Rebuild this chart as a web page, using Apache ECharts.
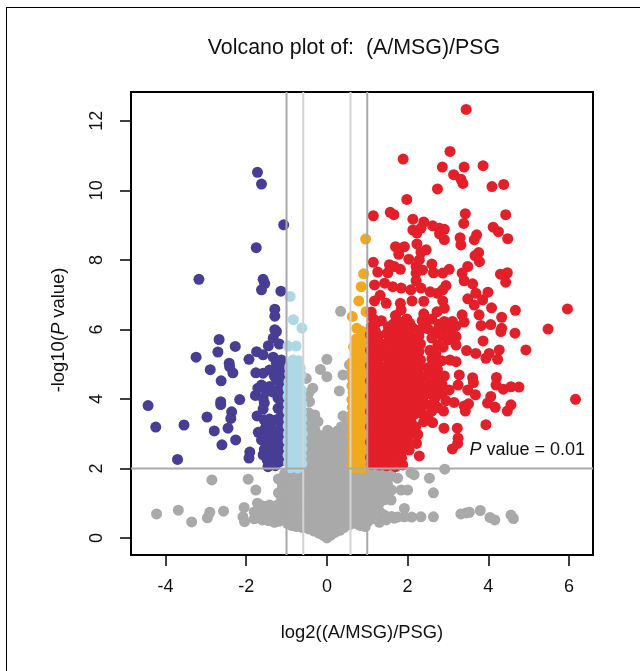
<!DOCTYPE html>
<html><head><meta charset="utf-8">
<style>html,body{margin:0;padding:0;background:#fff}#c{width:640px;height:671px}</style>
<script src="https://cdn.jsdelivr.net/npm/echarts@6/dist/echarts.min.js"></script>
</head><body><div id="c"></div>
<script>
const xTicks=[-4,-2,0,2,4,6];
const yTicks=[0,2,4,6,8,10,12];
const foldInner=[-0.585,0.585];
const foldOuter=[-1,1];
const pCut=2;
const titleText='Volcano plot of:  (A/MSG)/PSG';
const xName='log2((A/MSG)/PSG)';

const grayPts=[
[-4.22,.69],[-3.68,.8],[-3.35,.46],[-2.96,.58],[-2.9,.74],[-2.85,1.67],[-2.56,.77],[-2.04,.47],[-2.08,.61],[-2.05,.88],[-1.76,1.38],[-1.95,1.69],
[-1.8,.55],[-1.8,.75],[-1.72,1],[-1.6,.52],[-1.6,.72],[-1.58,.92],[-1.45,.5],[-1.42,.72],[-1.42,.95],[-1.3,.45],[-1.28,.68],[-1.28,.92],[-1.2,.48],[-1.18,.75],[-1.16,1],[-1.2,1.3],[-1.1,1.5],[-1.2,1.7],[-1.05,1.85],
[0,0],[-.1,.08],[.1,.08],[-.2,.14],[.2,.16],[-.32,.2],[.32,.22],[-.45,.26],[.42,.3],[-.6,.3],[.55,.38],[-.75,.33],[.7,.42],[-.88,.36],[-.98,.42],[.82,.36],[.95,.33],
[-1.04,.6],[-.85,.55],[-.65,.5],[-.45,.45],[-.25,.4],[-.05,.3],[.15,.38],[.35,.45],[.55,.55],[.75,.6],[.95,.55],[1.01,.47],
[-1.05,.82],[-.85,.78],[-.62,.75],[-.42,.72],[-.2,.62],[0,.55],[.2,.6],[.4,.68],[.62,.75],[.82,.8],[1.05,.75],[1.3,.76],
[-1.05,1.05],[-.82,1.02],[-.6,.98],[-.38,.95],[-.18,.88],[.04,.8],[.24,.85],[.45,.92],[.65,1],[.85,1.02],[1.08,1],[1.3,1],[1.59,1.09],
[-1.02,1.28],[-.8,1.25],[-.58,1.2],[-.36,1.18],[-.14,1.1],[.06,1.05],[.28,1.12],[.5,1.18],[.72,1.22],[.92,1.25],[1.12,1.22],[1.34,1.25],
[-.98,1.5],[-.78,1.48],[-.55,1.45],[-.32,1.4],[-.12,1.35],[.1,1.3],[.3,1.38],[.52,1.42],[.74,1.45],[.95,1.48],[1.15,1.45],[1.38,1.42],[1.6,1.38],[1.84,1.38],[2,1.38],
[-.95,1.72],[-.72,1.7],[-.52,1.68],[-.3,1.62],[-.08,1.58],[.12,1.55],[.32,1.6],[.55,1.65],[.76,1.68],[.98,1.7],[1.2,1.68],[1.42,1.72],[1.75,1.72],[2.08,1.88],[2.54,1.72],[2.64,1.3],[2.92,1.98],
[-.9,1.92],[-.68,1.9],[-.5,1.88],[-.28,1.85],[-.06,1.8],[.14,1.78],[.34,1.82],[.55,1.88],[.78,1.9],[1,1.92],[1.22,1.9],[1.45,1.92],[2.16,1.82],
[-.52,2.05],[-.46,2.3],[-.5,2.55],[-.46,2.8],[-.48,3.05],[-.42,3.28],[-.3,2.1],[-.28,2.35],[-.34,2.6],[-.28,2.85],[-.1,2.05],[-.12,2.3],[.08,2.05],[.06,2.32],[.05,2.6],[.02,2.85],[.02,3.1],
[.26,2.08],[.28,2.3],[.24,2.55],[.28,2.82],[.26,3.08],[.46,2.1],[.48,2.35],[.44,2.6],[.47,2.85],[.44,3.1],[.48,2.05],[-.18,2.62],[-.16,2.95],
[-.45,3.6],[-.43,3.92],[-.45,4.16],[-.51,4.59],[-.35,4.31],[-.3,3.54],[-.22,3.35],[-.34,3.3],[.4,3.51],[.31,4.23],[.4,4.69],[.56,4.98],[-.16,4.85],[0,4.64],[0,5.14],[.34,6.52],
[1.92,.85],[1.92,.61],[2.33,.61],[2.64,.61],[2.1,.6],[3.32,.69],[3.45,.72],[3.53,.74],[3.8,.79],[4.04,.59],[4.16,.52],[4.56,.66],[4.62,.56],[1.67,.57],[1.47,.52],[1.3,.45],[1.3,.76],[1.6,.62],[1.75,.6],
[-.95,.5],[-.75,.48],[-.55,.42],[-.35,.32],[-.15,.22],[.05,.18],[.25,.3],[.45,.5],[.65,.58],[.85,.62],[1.12,.55],
[-.95,.68],[-.74,.64],[-.52,.6],[-.32,.56],[-.1,.46],[.1,.45],[.3,.55],[.5,.72],[.72,.78],[.94,.8],[1.18,.88],[1.42,.66],
[-.95,.92],[-.72,.9],[-.5,.85],[-.28,.78],[-.08,.72],[.12,.72],[.34,.78],[.56,.88],[.76,.92],[.96,.92],[1.2,1.1],[1.44,1.1],
[-1.12,1.15],[-.92,1.15],[-.7,1.1],[-.48,1.08],[-.26,1.02],[-.04,.95],[.16,.96],[.38,1.05],[.6,1.1],[.82,1.12],[1.02,1.12],[1.24,1.35],[1.48,1.3],
[-1.08,1.38],[-.9,1.38],[-.68,1.35],[-.45,1.3],[-.22,1.25],[0,1.2],[.2,1.22],[.4,1.28],[.62,1.32],[.84,1.35],[1.05,1.36],[1.28,1.55],[1.5,1.55],
[-1.05,1.62],[-.86,1.6],[-.62,1.58],[-.42,1.52],[-.2,1.48],[.02,1.44],[.22,1.46],[.44,1.52],[.65,1.55],[.86,1.58],[1.08,1.58],[1.32,1.8],[1.55,1.75],
[-.82,1.82],[-.6,1.8],[-.4,1.75],[-.18,1.72],[.04,1.68],[.24,1.7],[.45,1.75],[.66,1.78],[.88,1.8],[1.1,1.82],[1.58,1.85],
[-.42,1.98],[-.2,1.95],[.02,1.92],[.22,1.94],[.4,1.98],[-.2,2.18],[-.02,2.18],[.16,2.2],[.36,2.22],[-.42,2.18],[-.4,2.45],[-.1,2.48],[.15,2.45],[.36,2.48],[-.38,2.72],[-.1,2.72],[.36,2.72],[-.4,2.95],[.36,2.96],[.14,3],[.36,3.2],[-.3,3.12],[.14,2.75],[.48,3.25],[-.42,3.45]
];
const orangePts=[
[.96,8.6],[.91,7.6],[.85,7.23],[.79,6.82],[.97,6.51],[.63,6.37],[.74,6.03],[.86,5.95],[.72,5.72],[.92,5.7],[.66,5.5],[.84,5.48],[.7,5.25],[.9,5.28],[.62,5.05],[.78,5.02],[.94,5.05],
[.62,4.8],[.78,4.82],[.94,4.78],[.63,4.6],[.8,4.58],[.95,4.6],[.62,4.38],[.78,4.4],[.93,4.36],[.65,4.18],[.8,4.2],[.95,4.16],[.62,3.98],[.78,3.96],[.94,3.98],[.63,3.76],[.8,3.78],[.95,3.75],[.62,3.55],[.78,3.56],[.94,3.55],
[.62,3.34],[.78,3.35],[.95,3.32],[.63,3.12],[.8,3.14],[.94,3.12],[.62,2.92],[.78,2.9],[.95,2.92],[.63,2.7],[.8,2.72],[.94,2.7],[.62,2.5],[.78,2.48],[.95,2.5],[.63,2.28],[.8,2.3],[.94,2.28],[.62,2.08],[.78,2.05],[.95,2.04],[.7,2.02],[.88,2.01],
[.7,4.7],[.87,4.7],[.7,4.48],[.87,4.48],[.7,4.28],[.87,4.28],[.7,4.08],[.87,4.08],[.7,3.86],[.87,3.86],[.7,3.66],[.87,3.66],[.7,3.45],[.87,3.45],[.7,3.24],[.87,3.24],[.7,3.02],[.87,3.02],[.7,2.8],[.87,2.8],[.7,2.6],[.87,2.6],[.7,2.38],[.87,2.38],[.7,2.18],[.87,2.18]
];
const lightbluePts=[
[-.91,6.95],[-.83,6.28],[-.62,6.04],[-.96,5.52],[-.76,5.52],[-.84,5.12],[-.7,5.1],[-.92,4.92],[-.76,4.95],[-.66,4.88],[-.92,4.72],[-.78,4.72],[-.64,4.7],[-.94,4.5],[-.8,4.52],[-.68,4.5],
[-.96,4.3],[-.8,4.3],[-.63,4.25],[-.96,4.08],[-.8,4.1],[-.64,4.05],[-.95,3.85],[-.78,3.88],[-.62,3.85],[-.96,3.65],[-.8,3.66],[-.63,3.62],[-.95,3.42],[-.78,3.45],[-.62,3.42],[-.96,3.22],[-.8,3.22],[-.63,3.2],
[-.95,3],[-.78,3.02],[-.61,3],[-.96,2.8],[-.8,2.78],[-.62,2.78],[-.95,2.58],[-.78,2.58],[-.62,2.56],[-.96,2.38],[-.8,2.36],[-.63,2.35],[-.95,2.16],[-.78,2.15],[-.62,2.14],[-.9,2.02],[-.72,2.01],
[-.87,4.62],[-.72,4.6],[-.88,4.4],[-.72,4.4],[-.88,4.2],[-.72,4.18],[-.87,3.98],[-.7,3.96],[-.87,3.76],[-.7,3.76],[-.87,3.54],[-.7,3.54],[-.87,3.32],[-.7,3.32],[-.87,3.1],[-.7,3.1],[-.87,2.9],[-.7,2.9],[-.87,2.68],[-.7,2.68],[-.87,2.46],[-.7,2.46],[-.87,2.26],[-.7,2.26]
];
const bluePts=[
[-1.72,10.52],[-1.62,10.18],[-1.07,9.01],[-1.75,8.35],[-3.17,7.44],[-1.58,7.44],[-1.54,7.32],[-1.62,7.14],[-1.14,7.1],[-1.29,6.58],[-1.29,6.38],[-1.29,5.99],
[-2.67,5.71],[-2.27,5.51],[-2.7,5.35],[-3.24,5.2],[-2.89,4.84],[-2.42,5.03],[-2.41,4.93],[-2.33,4.75],[-2.62,4.52],[-1.93,5.14],[-1.74,5.36],[-1.58,5.27],[-1.45,5.53],[-1.33,5.75],[-1.18,5.58],[-1.25,5.94],[-1.33,5.2],[-1.25,5.03],[-1.13,5.12],
[-1.76,4.75],[-1.58,4.74],[-1.42,4.83],[-1.21,4.79],[-1.25,4.55],[-1.62,4.4],[-1.42,4.36],[-1.71,4.31],[-1.77,4.1],[-1.58,4.02],[-1.5,4.22],[-1.21,4.26],[-1.21,4.02],[-1.58,3.71],[-1.21,3.73],[-1.12,4.45],[-1.15,4.95],[-1.55,3.88],
[-2.16,3.98],[-2.63,3.92],[-2.63,3.84],[-4.43,3.81],[-4.24,3.19],[-3.54,3.25],[-2.97,3.48],[-2.36,3.63],[-2.38,3.44],[-2.79,3.08],[-2.45,3.16],[-2.26,2.82],[-2.6,2.68],[-3.7,2.26],[-1.91,2.47],[-1.93,2.3],
[-1.73,3.51],[-1.5,3.3],[-1.25,3.4],[-1.38,3.28],[-1.7,3.04],[-1.42,3.11],[-1.17,3.11],[-1.55,3.12],[-1.62,2.82],[-1.38,2.85],[-1.17,2.82],[-1.28,3],[-1.17,2.53],[-1.42,2.53],[-1.58,2.39],[-1.33,2.29],[-1.46,2.05],[-1.17,2.2],[-1.3,2.65],[-1.48,2.72],[-1.28,2.08],[-1.12,2.98],[-1.12,3.3],[-1.12,3.55],
[-1.3,4.65],[-1.12,4.7],[-1.12,4.2],[-1.35,4.2],[-1.13,3.85],[-1.42,3.42],[-1.55,3.4],[-1.5,2.9],[-1.12,2.65],[-1.3,2.45],[-1.48,2.25],[-1.12,2.38],[-1.55,2.55],[-1.38,2.15]
];
const redPts=[
[3.45,12.33],[3.05,11.12],[1.89,10.9],[2.86,10.67],[3.4,10.67],[3.87,10.71],[3.14,10.45],[3.32,10.32],[3.37,10.2],[4.09,10.11],[4.38,10.17],[2.74,10.04],[1.98,9.74],[1.15,9.27],[1.57,9.37],[1.66,9.3],[2.13,9.17],[2.4,9.09],[3.43,9.33],[4.43,9.3],[3.39,9.05],[4.12,8.94],[4.25,8.81],[4.48,8.61],
[2.62,8.98],[2.79,8.91],[2.91,8.88],[2.79,8.75],[2.91,8.58],[2.13,8.86],[2.23,8.77],[2.33,8.91],[2.23,8.46],[3.3,8.64],[3.32,8.43],[3.71,8.72],[3.65,8.58],[1.7,8.38],[1.92,8.38],[1.78,8.16],[2.46,8.29],[2.33,8.22],[3.76,8.21],[3.67,8.12],[3.78,7.95],[2.03,8.02],[2.29,8],[1.15,7.93],[2.6,7.88],
[1.26,7.65],[1.55,7.86],[1.67,7.81],[1.82,7.73],[1.51,7.63],[2.21,7.81],[2.37,7.71],[2.21,7.62],[2.64,7.63],[2.87,7.62],[3.03,7.73],[3.49,7.81],[3.35,7.62],[3.4,7.4],[4.47,7.63],[4.3,7.59],[4.43,7.36],[3.61,7.31],[1.18,7.28],[1.43,7.33],[1.63,7.23],[1.84,7.19],[2.21,7.4],[2.33,7.19],[2.08,7.14],[2.95,7.26],[2.87,7.14],[2.56,7.08],[2.74,7.04],[3.99,7.07],[3.69,7.04],[1.32,6.98],
[1.18,6.82],[1.47,6.75],[1.82,6.75],[2.11,6.82],[2.4,6.81],[2.87,6.82],[3.49,6.88],[3.86,6.85],[3.65,6.7],[4.08,6.62],[4.67,6.55],[5.96,6.59],[1.84,6.56],[2.91,6.61],[2.73,6.51],[3.77,6.42],[3.35,6.42],[4.33,6.35],[2.91,6.23],[3.11,6.23],[3.4,6.21],[4.06,6.14],[3.82,6.11],[4.33,6.03],[5.48,6.01],
[3.87,5.67],[4.93,5.41],[4.31,5.94],[4.66,5.89],[3.46,5.39],[3.69,5.31],[3.94,5.17],[4.02,5.31],[4.27,5.41],[4.23,5.14],[2.88,5.49],[3.2,5.79],[3.2,5.55],[3.05,5.12],[3.2,5.07],[2.74,4.85],[2.91,4.66],[2.74,4.59],[3.28,4.69],[3.25,4.4],[3.61,4.61],[3.63,4.47],[4.2,4.62],[4.19,4.4],[4.37,4.28],[4.56,4.35],[4.76,4.34],[3.49,4.26],[3.68,4.12],[6.16,3.99],[4.06,4.07],[3.98,3.88],[4.17,3.76],[4.56,3.83],[4.47,3.65],[3.51,3.86],[3.4,3.8],[3.43,3.65],[3.03,4.26],[2.87,4.16],[2.7,4.07],[2.89,3.65],[2.62,3.32],[2.9,3.16],[3.23,3.16],[3.94,3.26],[3.25,2.87],[3.24,2.72],[3.11,2.56],[2.22,2.72],[2.29,2.36],[2.04,2.53],[1.88,2.1],
[2.6,6.3],[2.45,6.1],[2.7,5.95],[2.95,6],[3.1,5.95],[2.6,5.75],[2.75,5.55],[2.55,5.4],[2.6,5.15],[2.5,4.9],[2.45,4.65],[2.45,4.35],[2.55,4.15],[2.65,3.9],[2.45,3.85],[2.35,3.6],[2.6,3.65],[2.4,3.35],[2.2,3.2],[2.25,2.98],[2.1,3],
[1.1,6.5],[1.7,6.4],[2.4,6.45],[1.15,6.3],[1.35,6.25],[1.78,6.22],[1.98,6.3],[2.36,6.25],[1.1,6.08],[1.52,6.08],[1.72,6.02],[1.93,6.08],[2.12,6.05],[2.32,6],[2.5,6.02],
[1.08,5.85],[1.28,5.82],[1.48,5.88],[1.68,5.82],[1.88,5.85],[2.08,5.82],[2.28,5.8],[1.12,5.62],[1.32,5.6],[1.52,5.65],[1.72,5.6],[1.92,5.64],[2.12,5.6],[2.32,5.58],
[1.08,5.4],[1.28,5.42],[1.48,5.38],[1.68,5.42],[1.88,5.38],[2.08,5.4],[2.28,5.36],[1.12,5.18],[1.32,5.2],[1.52,5.16],[1.72,5.2],[1.92,5.16],[2.12,5.18],[2.32,5.12],[1.08,4.96],[1.28,4.98],[1.48,4.95],[1.68,4.98],[1.88,4.94],[2.08,4.96],[2.28,4.9],
[1.12,4.75],[1.32,4.76],[1.52,4.72],[1.72,4.76],[1.92,4.72],[2.12,4.75],[2.3,4.68],[1.08,4.52],[1.28,4.55],[1.48,4.5],[1.68,4.54],[1.88,4.5],[2.06,4.52],[2.28,4.48],[1.12,4.3],[1.32,4.32],[1.52,4.28],[1.72,4.32],[1.92,4.28],[2.12,4.3],[2.3,4.25],
[1.08,4.08],[1.28,4.1],[1.48,4.06],[1.68,4.1],[1.88,4.06],[2.1,4.08],[2.3,4.02],[1.12,3.86],[1.32,3.88],[1.52,3.84],[1.72,3.88],[1.92,3.84],[2.12,3.85],[2.28,3.8],[1.08,3.64],[1.28,3.66],[1.48,3.62],[1.68,3.66],[1.88,3.62],[2.05,3.62],[2.2,3.58],
[1.12,3.42],[1.32,3.44],[1.52,3.4],[1.72,3.44],[1.92,3.4],[2.08,3.4],[1.08,3.2],[1.28,3.22],[1.48,3.18],[1.68,3.22],[1.88,3.18],[2.02,3.2],[1.12,2.98],[1.32,3],[1.52,2.96],[1.72,3],[1.9,2.96],[1.08,2.76],[1.28,2.78],[1.48,2.74],[1.68,2.78],[1.86,2.74],[2,2.8],
[1.12,2.54],[1.32,2.56],[1.52,2.52],[1.7,2.56],[1.85,2.5],[1.08,2.32],[1.28,2.34],[1.48,2.3],[1.66,2.32],[1.85,2.3],[1.1,2.12],[1.3,2.1],[1.48,2.08],[1.7,2.05],
[1.22,6.18],[1.65,6.16],[2.05,6.18],[1.2,5.95],[1.6,5.95],[2,5.95],[1.2,5.72],[1.62,5.72],[2.02,5.72],[2.22,5.7],
[1.18,5.5],[1.58,5.52],[1.98,5.5],[2.18,5.48],[1.2,5.3],[1.62,5.28],[2.02,5.28],[2.2,5.26],[1.18,5.08],[1.6,5.06],[1.8,5.06],[2.2,5.04],[1.2,4.86],[1.6,4.86],[2,4.84],[2.2,4.82],
[1.18,4.64],[1.4,4.64],[1.6,4.62],[1.8,4.64],[2,4.62],[2.2,4.6],[1.2,4.42],[1.4,4.42],[1.6,4.42],[1.8,4.4],[2,4.4],[2.2,4.38],[1.18,4.2],[1.4,4.2],[1.6,4.2],[1.8,4.18],[2,4.18],[2.2,4.16],[1.2,3.98],[1.4,3.98],[1.6,3.98],[1.8,3.96],[2,3.96],[2.2,3.94],
[1.18,3.76],[1.4,3.76],[1.6,3.75],[1.8,3.75],[2,3.74],[1.2,3.54],[1.4,3.54],[1.6,3.54],[1.8,3.52],[2,3.52],[1.18,3.32],[1.4,3.32],[1.6,3.32],[1.8,3.3],[1.98,3.3],[1.2,3.1],[1.4,3.1],[1.6,3.1],[1.8,3.08],[1.2,2.88],[1.4,2.86],[1.6,2.88],[1.78,2.86],[1.2,2.66],[1.4,2.64],[1.6,2.66],[1.8,2.64],[1.2,2.44],[1.4,2.42],[1.58,2.44],[1.76,2.42],[1.2,2.22],[1.38,2.2],[1.58,2.18],
[2.78,6.15],[3,6.12],[3.2,6.1],[2.85,5.8],[3,5.7],[2.7,5.3],[2.85,5.1],[2.7,5],[2.6,4.75],[2.55,4.55],[2.62,4.35],[2.85,4.42],[2.75,4.25],[3.15,3.9],[2.4,4.1],[2.75,3.75],[2.5,3.5],[2.95,3.95]
];

const xMin=-4.853,xMax=6.593,yMin=-0.49,yMax=12.83;
const dots=(name,data,color,z)=>({name,type:'scatter',data,symbol:'circle',symbolSize:11,itemStyle:{color,opacity:1},z,silent:true,animation:false});
const rule=(data,color,z)=>({type:'line',data,showSymbol:false,symbol:'none',lineStyle:{color,width:2},z,silent:true,animation:false});
const F='"Liberation Sans",Arial,sans-serif';
const series=[
 dots('gray',grayPts,'#a9a9a9',2),
 dots('orange',orangePts,'#f2a91d',3),
 dots('blue',bluePts,'#483d94',3),
 dots('lightblue',lightbluePts,'#add8e6',4),
 dots('red',redPts,'#e31f29',5),
 ...foldOuter.map(v=>rule([[v,yMin],[v,yMax]],'#a9a9a9',7)),
 ...foldInner.map(v=>rule([[v,yMin],[v,yMax]],'#d3d3d3',7)),
 rule([[xMin,pCut],[xMax,pCut]],'#a9a9a9',7)
];
const chart=echarts.init(document.getElementById('c'),null,{renderer:'canvas'});
chart.setOption({
 animation:false,backgroundColor:'#fff',
 grid:{left:131,top:92,width:462,height:463,show:true,borderColor:'#000',borderWidth:2,backgroundColor:'transparent'},
 xAxis:{type:'value',min:xMin,max:xMax,splitLine:{show:false},axisLine:{show:false,onZero:false},
  axisTick:{show:true,length:11,lineStyle:{color:'#000',width:1.5},customValues:xTicks},
  axisLabel:{color:'#111',fontFamily:F,fontSize:18,margin:23,customValues:xTicks}},
 yAxis:{type:'value',min:yMin,max:yMax,splitLine:{show:false},axisLine:{show:false,onZero:false},
  axisTick:{show:true,length:11,lineStyle:{color:'#000',width:1.5},customValues:yTicks},
  axisLabel:{color:'#111',fontFamily:F,fontSize:18,margin:25,rotate:90,customValues:yTicks}},
 series,
 graphic:[
  {type:'line',shape:{x1:6,y1:7.5,x2:640,y2:7.5},style:{stroke:'#000',lineWidth:1}},
  {type:'line',shape:{x1:6.5,y1:7,x2:6.5,y2:671},style:{stroke:'#000',lineWidth:1}},
  {type:'text',x:354,y:48,style:{text:titleText,font:'21.4px '+F,fill:'#111',textAlign:'center',textVerticalAlign:'middle'}},
  {type:'text',x:362,y:633,style:{text:xName,font:'18.4px '+F,fill:'#111',textAlign:'center',textVerticalAlign:'middle'}},
  {type:'text',x:59,y:330,rotation:Math.PI/2,style:{rich:{i:{fontStyle:'italic',fontFamily:F,fontSize:18.4,fill:'#111'},n:{fontFamily:F,fontSize:18.4,fill:'#111'}},text:'{n|-log10(}{i|P}{n| value)}',textAlign:'center',textVerticalAlign:'middle'}},
  {type:'text',x:585,y:450,z:20,style:{rich:{i:{fontStyle:'italic',fontFamily:F,fontSize:18,fill:'#111'},n:{fontFamily:F,fontSize:18,fill:'#111'}},text:'{i|P}{n| value = 0.01}',textAlign:'right',textVerticalAlign:'middle'}}
 ]
});
</script></body></html>
